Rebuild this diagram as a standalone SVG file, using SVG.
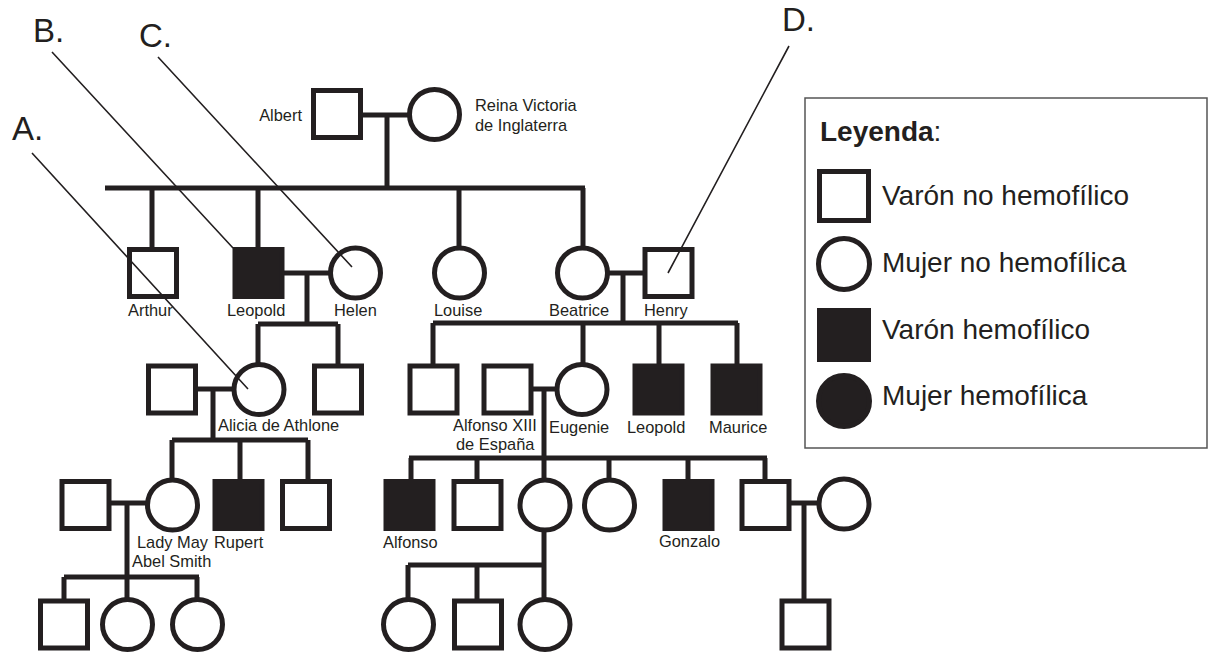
<svg xmlns="http://www.w3.org/2000/svg" width="1209" height="653" viewBox="0 0 1209 653">
<style>
.n{fill:#fff;stroke:#231f20;stroke-width:5}
.f{fill:#231f20;stroke:#231f20;stroke-width:5}
.c{fill:none;stroke:#231f20;stroke-width:5}
.p{fill:none;stroke:#231f20;stroke-width:1.6}
.t{font-family:"Liberation Sans",Arial,sans-serif;font-size:16.4px;fill:#231f20}
.big{font-family:"Liberation Sans",Arial,sans-serif;font-size:33px;fill:#231f20}
.lg{font-family:"Liberation Sans",Arial,sans-serif;font-size:28px;fill:#231f20}
</style>
<rect width="1209" height="653" fill="#fff"/>
<g id="connectors">
<path class="c" d="M360 115H410M387 115V188M105 188H585M152 188V250M258 188V250M459 188V249M583 188V249"/>
<path class="c" d="M282 273H331M307 273V324M258 324H338M258 324V365M338 324V366"/>
<path class="c" d="M607 273H645M623 273V323M433 323H738M433 323V366M583 323V365M659 323V366M737 323V366"/>
<path class="c" d="M195 389H234M213 389V440M172 440H308M172 440V480M240 440V481M308 440V481"/>
<path class="c" d="M531 389H557M544 389V458M409 458H767M411 458V481M477 458V481M544 458V480M609 458V480M688 458V481M765 458V481"/>
<path class="c" d="M109 503H148M127 503V577M64 577H199M64 577V601M127 577V600M197 577V600"/>
<path class="c" d="M544 530V598M408 565H544M408 565V600M477 565V601"/>
<path class="c" d="M789 503H819M804 503V601"/>
</g>
<g id="albert"><rect class="n" x="313.5" y="90.5" width="47" height="47"/><text class="t" x="302" y="121" text-anchor="end">Albert</text></g>
<g id="victoria"><circle class="n" cx="434.5" cy="114.5" r="25"/><text class="t" x="475" y="111">Reina Victoria</text><text class="t" x="475" y="131">de Inglaterra</text></g>
<g id="arthur"><rect class="n" x="129.5" y="249.5" width="47" height="47"/><text class="t" x="128" y="316">Arthur</text></g>
<g id="leopold1"><rect class="f" x="235" y="249.5" width="47" height="47"/><text class="t" x="227" y="316">Leopold</text></g>
<g id="helen"><circle class="n" cx="355.5" cy="273" r="25"/><text class="t" x="334" y="316">Helen</text></g>
<g id="louise"><circle class="n" cx="459.5" cy="273" r="25"/><text class="t" x="434" y="316">Louise</text></g>
<g id="beatrice"><circle class="n" cx="582.5" cy="273" r="25"/><text class="t" x="549" y="316">Beatrice</text></g>
<g id="henry"><rect class="n" x="645" y="249.5" width="47" height="47"/><text class="t" x="644" y="316">Henry</text></g>
<g id="alicia-husband"><rect class="n" x="148.5" y="366" width="47" height="47"/></g>
<g id="alicia"><circle class="n" cx="259" cy="389.5" r="25"/><text class="t" x="218" y="431">Alicia de Athlone</text></g>
<g id="helen-son"><rect class="n" x="314.5" y="366" width="47" height="47"/></g>
<g id="beatrice-son1"><rect class="n" x="410" y="366" width="47" height="47"/></g>
<g id="alfonso13"><rect class="n" x="484" y="366" width="47" height="47"/><text class="t" x="453" y="431">Alfonso XIII</text><text class="t" x="456" y="450">de España</text></g>
<g id="eugenie"><circle class="n" cx="582" cy="389.5" r="25"/><text class="t" x="549" y="433">Eugenie</text></g>
<g id="leopold2"><rect class="f" x="635" y="366" width="47" height="47"/><text class="t" x="627" y="433">Leopold</text></g>
<g id="maurice"><rect class="f" x="713" y="366" width="47" height="47"/><text class="t" x="709" y="433">Maurice</text></g>
<g id="lady-may-husband"><rect class="n" x="62" y="481.5" width="47" height="47"/></g>
<g id="lady-may"><circle class="n" cx="172.5" cy="505" r="25"/><text class="t" x="137" y="548">Lady May</text><text class="t" x="132" y="567">Abel Smith</text></g>
<g id="rupert"><rect class="f" x="215" y="481.5" width="47" height="47"/><text class="t" x="214" y="548">Rupert</text></g>
<g id="alicia-son2"><rect class="n" x="282.5" y="481.5" width="47" height="47"/></g>
<g id="alfonso"><rect class="f" x="386" y="481.5" width="47" height="47"/><text class="t" x="383" y="548">Alfonso</text></g>
<g id="eugenie-son2"><rect class="n" x="454" y="481.5" width="47" height="47"/></g>
<g id="eugenie-dau1"><circle class="n" cx="545" cy="505" r="25"/></g>
<g id="eugenie-dau2"><circle class="n" cx="609.5" cy="505" r="25"/></g>
<g id="gonzalo"><rect class="f" x="665" y="481.5" width="47" height="47"/><text class="t" x="659" y="547">Gonzalo</text></g>
<g id="eugenie-son4"><rect class="n" x="742" y="481.5" width="47" height="47"/></g>
<g id="eugenie-son4-wife"><circle class="n" cx="844" cy="504" r="25"/></g>
<g id="g4-1"><rect class="n" x="40.5" y="601" width="47" height="47"/></g>
<g id="g4-2"><circle class="n" cx="127.5" cy="624.5" r="25"/></g>
<g id="g4-3"><circle class="n" cx="197.5" cy="624.5" r="25"/></g>
<g id="g4-4"><circle class="n" cx="408.5" cy="624.5" r="25"/></g>
<g id="g4-5"><rect class="n" x="454.5" y="601" width="47" height="47"/></g>
<g id="g4-6"><circle class="n" cx="545" cy="624.5" r="25"/></g>
<g id="g4-7"><rect class="n" x="782" y="601" width="47" height="47"/></g>
<g id="pointers">
<path class="p" d="M32 153L248 389M52 52L233 248M158 57L352 267M789 46L668 273"/>
<text class="big" x="12" y="140">A.</text>
<text class="big" x="33" y="42">B.</text>
<text class="big" x="139" y="47">C.</text>
<text class="big" x="782" y="31">D.</text>
</g>
<g id="legend">
<rect x="805" y="98" width="402" height="350" fill="none" stroke="#555" stroke-width="1.5"/>
<text class="lg" x="820" y="141"><tspan font-weight="bold">Leyenda</tspan>:</text>
<rect class="n" x="819.5" y="171.5" width="49" height="49"/>
<text class="lg" x="882" y="205">Varón no hemofílico</text>
<circle class="n" cx="844" cy="264" r="25.5"/>
<text class="lg" x="882" y="272">Mujer no hemofílica</text>
<rect class="f" x="819.5" y="310.5" width="49" height="49"/>
<text class="lg" x="882" y="339">Varón hemofílico</text>
<circle class="f" cx="844" cy="401" r="25.5"/>
<text class="lg" x="882" y="405">Mujer hemofílica</text>
</g>
</svg>
